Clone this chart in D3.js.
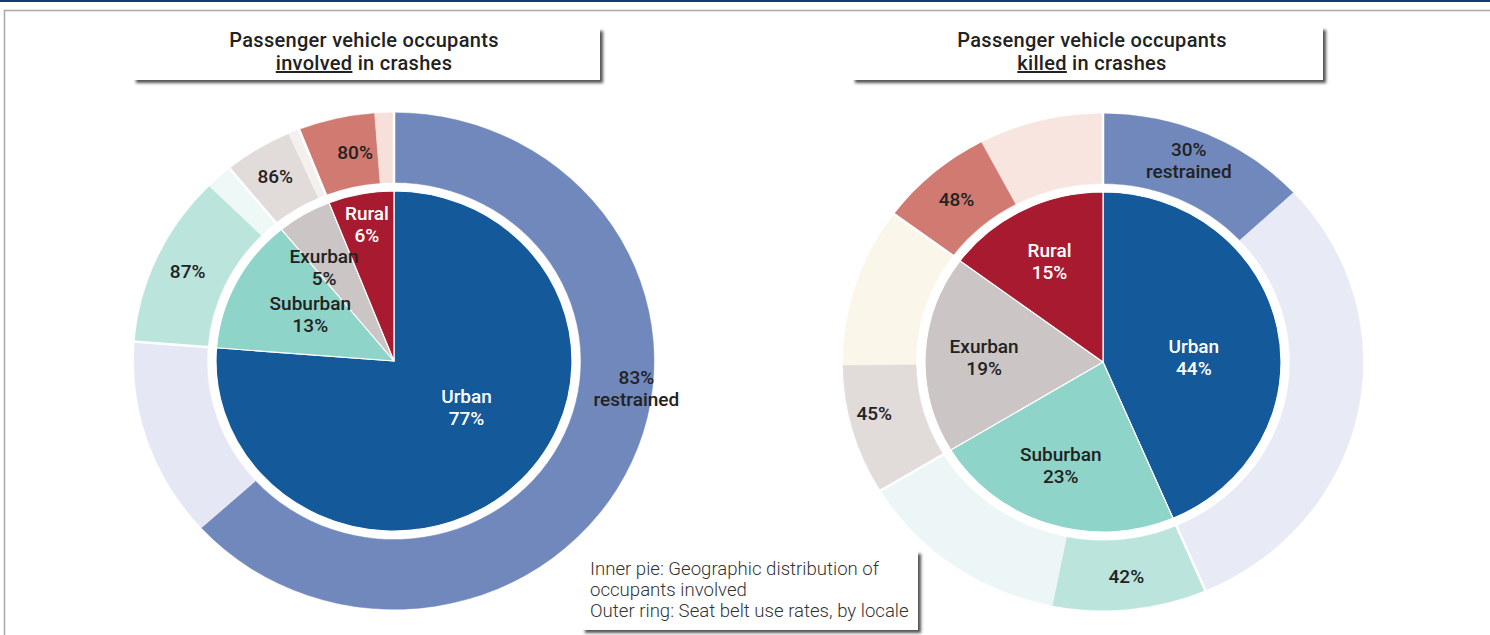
<!DOCTYPE html>
<html><head><meta charset="utf-8">
<script src="https://cdn.jsdelivr.net/npm/d3@7"></script>
<style>
html,body{margin:0;padding:0;background:#fff;}
svg{display:block;font-family:Roboto,"Open Sans","DejaVu Sans",sans-serif;}
</style></head><body>
<svg id="chart" width="1490" height="635"></svg>
<script>
// ---------- data ----------
const categories = ["Urban", "Suburban", "Exurban", "Rural"];
const involvedShare = [77, 13, 5, 6];          // % of occupants involved in crashes
const involvedRestrained = [83, 87, 86, 80];   // seat belt use rate, %
const killedShare = [44, 23, 19, 15];          // % of occupants killed in crashes
const killedRestrained = [30, 42, 45, 48];     // seat belt use rate, %
const titleLines1 = ["Passenger vehicle occupants", "Passenger vehicle occupants"];
const titleKeyWords = ["involved", "killed"];
const titleRest = [" in crashes", " in crashes"];
const legendLines = ["Inner pie: Geographic distribution of", "occupants involved", "Outer ring: Seat belt use rates, by locale"];

// ---------- styles ----------
const pieColors  = ["#14599a", "#8fd4c8", "#cbc5c5", "#a81a30"];
const ringColors = ["#7088bc", "#bae4dc", "#e1dbda", "#d07a71"];
const paleColorSets = [
  ["#e5e8f4", "#eef8f6", "#f3f0ee", "#f7e0da"],
  ["#e8eaf5", "#ecf6f6", "#faf6e9", "#f9e5e0"]
];
const innerLabelColors = ["#ffffff", "#222222", "#222222", "#ffffff"];

const W = 1490, H = 635;
const R_PIE = 178, R_RING_IN = 187, R_RING_OUT = 260, Y_SQUASH = 0.955;

// label placement: [fraction along arc, radius]
const layouts = [
  { cx: 394, cy: 361, titleBox: [133, 28, 467, 52], titleX: 364,
    inner: [[0.45, 87], [0.56, 97], [0.22, 121], [0.5, 146]],
    ring:  [[0.424, 244], [0.5, 227], [0.5, 227], [0.66, 222]] },
  { cx: 1103, cy: 362, titleBox: [852, 27, 471, 53], titleX: 1092,
    inner: [[0.553, 91], [0.543, 116], [0.5, 119], [0.5, 119]],
    ring:  [[0.47, 228], [0.5, 225], [0.59, 235], [0.5, 225]] }
];
const datasets = [
  { share: involvedShare, rate: involvedRestrained },
  { share: killedShare, rate: killedRestrained }
];

const svg = d3.select("#chart");
const defs = svg.append("defs");
const f = defs.append("filter").attr("id", "shadow")
  .attr("x", "-5%").attr("y", "-10%").attr("width", "115%").attr("height", "140%");
f.append("feDropShadow").attr("dx", 3).attr("dy", 3).attr("stdDeviation", 1.6)
  .attr("flood-color", "#1a1a1a").attr("flood-opacity", 0.75);

// frame
svg.append("rect").attr("x", 0).attr("y", 0).attr("width", W).attr("height", 2).attr("fill", "#0c3e6b");
svg.append("path").attr("d", `M4.5,${H} V10.5 H${W}`).attr("fill", "none").attr("stroke", "#a9a9a9").attr("stroke-width", 1.5);

const pie = d3.pie().sort(null).value(d => d.share);

function polar(angle, r) {
  return [r * Math.sin(angle), -r * Math.cos(angle) * Y_SQUASH];
}

datasets.forEach((ds, ci) => {
  const L = layouts[ci];
  const paleColors = paleColorSets[ci];
  const rows = categories.map((c, i) => ({ cat: c, share: ds.share[i], rate: ds.rate[i], i }));
  const arcsData = pie(rows);

  const g = svg.append("g").attr("transform", `translate(${L.cx},${L.cy}) scale(1,${Y_SQUASH})`);
  const pieArc = d3.arc().innerRadius(0).outerRadius(R_PIE);
  const ringArc = d3.arc().innerRadius(R_RING_IN).outerRadius(R_RING_OUT);

  // outer ring: restrained + unrestrained parts
  const ringParts = [];
  arcsData.forEach(d => {
    const split = d.startAngle + (d.endAngle - d.startAngle) * d.data.rate / 100;
    ringParts.push({ startAngle: d.startAngle, endAngle: split, fill: ringColors[d.data.i] });
    ringParts.push({ startAngle: split, endAngle: d.endAngle, fill: paleColors[d.data.i] });
  });
  g.selectAll("path.ring").data(ringParts).join("path")
    .attr("class", "ring").attr("d", ringArc).attr("fill", d => d.fill)
    .attr("stroke", d => d.fill).attr("stroke-width", 0.5);
  // white separators between locales in the ring
  g.selectAll("line.sep").data(arcsData).join("line")
    .attr("class", "sep")
    .attr("x1", d => (R_RING_IN - 2) * Math.sin(d.startAngle))
    .attr("y1", d => -(R_RING_IN - 2) * Math.cos(d.startAngle))
    .attr("x2", d => (R_RING_OUT + 2) * Math.sin(d.startAngle))
    .attr("y2", d => -(R_RING_OUT + 2) * Math.cos(d.startAngle))
    .attr("stroke", "#fff").attr("stroke-width", 2.5);

  // inner pie
  g.selectAll("path.slice").data(arcsData).join("path")
    .attr("class", "slice").attr("d", pieArc)
    .attr("fill", d => pieColors[d.data.i])
    .attr("stroke", "#fff").attr("stroke-width", 1.2).attr("stroke-linejoin", "round");

  // labels
  const lg = svg.append("g").attr("transform", `translate(${L.cx},${L.cy})`)
    .style("font-size", "19px").style("font-weight", 500);
  arcsData.forEach((d, k) => {
    const [frac, r] = L.inner[k];
    const a = d.startAngle + (d.endAngle - d.startAngle) * frac;
    const [x, y] = polar(a, r);
    const t = lg.append("text").attr("text-anchor", "middle").attr("fill", innerLabelColors[d.data.i]);
    t.append("tspan").attr("x", x).attr("y", y - 4).text(d.data.cat);
    t.append("tspan").attr("x", x).attr("y", y + 18).text(d.data.share + "%");

    const [rf, rr] = L.ring[k];
    const split = d.startAngle + (d.endAngle - d.startAngle) * d.data.rate / 100;
    const a2 = d.startAngle + (split - d.startAngle) * rf;
    const [x2, y2] = polar(a2, rr);
    const t2 = lg.append("text").attr("text-anchor", "middle").attr("fill", "#222");
    if (d.data.i === 0) {
      t2.append("tspan").attr("x", x2).attr("y", y2 - 4).text(d.data.rate + "%");
      t2.append("tspan").attr("x", x2).attr("y", y2 + 18).text("restrained");
    } else {
      t2.append("tspan").attr("x", x2).attr("y", y2 + 7).text(d.data.rate + "%");
    }
  });

  // title box
  const [bx, by, bw, bh] = L.titleBox;
  svg.append("rect").attr("x", bx).attr("y", by).attr("width", bw).attr("height", bh)
    .attr("fill", "#fff").attr("filter", "url(#shadow)");
  svg.append("text").attr("text-anchor", "middle").attr("fill", "#222")
    .style("font-size", "20px").style("font-weight", 500).style("letter-spacing", "0.3px")
    .attr("x", L.titleX).attr("y", 47).text(titleLines1[ci]);
  const t2 = svg.append("text").attr("text-anchor", "middle").attr("fill", "#222")
    .style("font-size", "20px").style("font-weight", 500).style("letter-spacing", "0.3px")
    .attr("x", L.titleX).attr("y", 70);
  t2.append("tspan").style("text-decoration", "underline").text(titleKeyWords[ci]);
  t2.append("tspan").text(titleRest[ci]);
});

// legend box
svg.append("rect").attr("x", 582).attr("y", 551).attr("width", 336).attr("height", 79)
  .attr("fill", "#fff").attr("filter", "url(#shadow)");
const lt = svg.append("text").attr("fill", "#333").style("font-size", "18.6px").style("font-weight", 300);
legendLines.forEach((s, i) => {
  lt.append("tspan").attr("x", 590).attr("y", 575 + i * 21).text(s);
});
</script>
</body></html>
